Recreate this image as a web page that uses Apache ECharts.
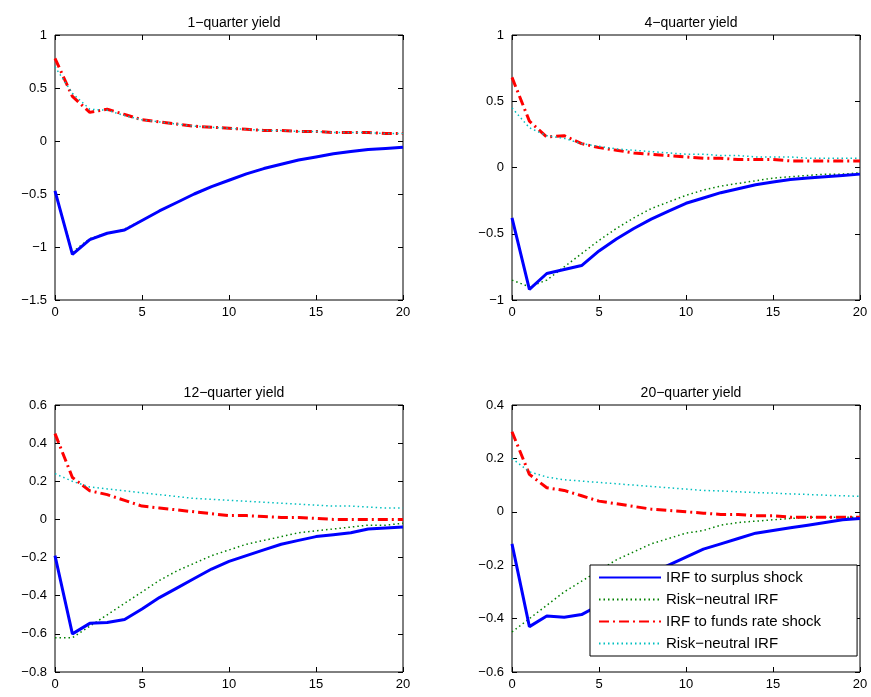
<!DOCTYPE html>
<html>
<head>
<meta charset="UTF-8">
<script src="https://cdn.jsdelivr.net/npm/echarts@6/dist/echarts.min.js"></script>
</head>
<body style="margin:0;background:#fff">
<div id="main" style="width:871px;height:697px"></div>
<script>
var xs = [];
for (var i = 0; i <= 20; i++) xs.push(i);

var titles = ['1\u2212quarter yield', '4\u2212quarter yield', '12\u2212quarter yield', '20\u2212quarter yield'];
var seriesNames = ['IRF to surplus shock', 'Risk\u2212neutral IRF', 'IRF to funds rate shock', 'Risk\u2212neutral IRF '];

// panel 1
var surplus1 = [-0.47,-1.07,-0.93,-0.87,-0.84,-0.75,-0.66,-0.58,-0.5,-0.43,-0.37,-0.31,-0.26,-0.22,-0.18,-0.15,-0.12,-0.1,-0.08,-0.07,-0.06];
var rnSurplus1 = [-0.48,-1.05,-0.92,-0.87,-0.83,-0.75,-0.66,-0.58,-0.5,-0.43,-0.37,-0.31,-0.26,-0.22,-0.18,-0.15,-0.12,-0.1,-0.08,-0.07,-0.06];
var funds1 = [0.78,0.42,0.27,0.3,0.25,0.2,0.18,0.16,0.14,0.13,0.12,0.11,0.1,0.1,0.09,0.09,0.08,0.08,0.08,0.07,0.07];
var rnFunds1 = [0.7,0.45,0.3,0.29,0.24,0.2,0.18,0.16,0.14,0.13,0.12,0.11,0.1,0.1,0.09,0.09,0.08,0.08,0.08,0.07,0.07];
// panel 2
var surplus2 = [-0.38,-0.92,-0.8,-0.77,-0.74,-0.63,-0.54,-0.46,-0.39,-0.33,-0.27,-0.23,-0.19,-0.16,-0.13,-0.11,-0.09,-0.08,-0.07,-0.06,-0.05];
var rnSurplus2 = [-0.85,-0.9,-0.85,-0.75,-0.65,-0.55,-0.46,-0.38,-0.31,-0.26,-0.21,-0.17,-0.14,-0.12,-0.1,-0.08,-0.07,-0.06,-0.05,-0.05,-0.04];
var funds2 = [0.68,0.35,0.23,0.24,0.18,0.15,0.13,0.11,0.1,0.09,0.08,0.07,0.07,0.06,0.06,0.06,0.05,0.05,0.05,0.05,0.05];
var rnFunds2 = [0.45,0.3,0.24,0.22,0.18,0.16,0.14,0.13,0.12,0.11,0.1,0.1,0.09,0.09,0.08,0.08,0.08,0.07,0.07,0.07,0.07];
// panel 3
var surplus3 = [-0.19,-0.6,-0.545,-0.54,-0.525,-0.47,-0.41,-0.36,-0.31,-0.26,-0.22,-0.19,-0.16,-0.13,-0.11,-0.09,-0.08,-0.07,-0.05,-0.045,-0.04];
var rnSurplus3 = [-0.62,-0.62,-0.56,-0.5,-0.44,-0.38,-0.32,-0.27,-0.23,-0.19,-0.16,-0.13,-0.11,-0.09,-0.07,-0.06,-0.05,-0.04,-0.03,-0.03,-0.02];
var funds3 = [0.45,0.22,0.15,0.13,0.1,0.07,0.06,0.05,0.04,0.03,0.02,0.02,0.015,0.01,0.01,0.005,0,0,0,0,0];
var rnFunds3 = [0.24,0.2,0.17,0.16,0.15,0.14,0.13,0.12,0.11,0.105,0.1,0.095,0.09,0.085,0.08,0.075,0.07,0.07,0.065,0.06,0.06];
// panel 4
var surplus4 = [-0.12,-0.43,-0.39,-0.395,-0.385,-0.35,-0.31,-0.27,-0.23,-0.2,-0.17,-0.14,-0.12,-0.1,-0.08,-0.07,-0.06,-0.05,-0.04,-0.03,-0.025];
var rnSurplus4 = [-0.45,-0.4,-0.35,-0.3,-0.26,-0.22,-0.18,-0.15,-0.12,-0.1,-0.08,-0.07,-0.05,-0.04,-0.035,-0.03,-0.025,-0.02,-0.02,-0.02,-0.02];
var funds4 = [0.3,0.14,0.09,0.08,0.06,0.04,0.03,0.02,0.01,0.005,0,-0.005,-0.01,-0.01,-0.015,-0.015,-0.02,-0.02,-0.02,-0.02,-0.02];
var rnFunds4 = [0.2,0.15,0.13,0.12,0.115,0.11,0.105,0.1,0.095,0.09,0.085,0.08,0.078,0.075,0.072,0.07,0.067,0.065,0.062,0.06,0.058];

var yMin = [-1.5, -1, -0.8, -0.6];
var yMax = [1, 1, 0.6, 0.4];
var yStep = [0.5, 0.5, 0.2, 0.2];

var panels = [
  [surplus1, rnSurplus1, funds1, rnFunds1],
  [surplus2, rnSurplus2, funds2, rnFunds2],
  [surplus3, rnSurplus3, funds3, rnFunds3],
  [surplus4, rnSurplus4, funds4, rnFunds4]
];

var boxes = [
  {left: 55, top: 35, width: 348, height: 265},
  {left: 512, top: 35, width: 348, height: 265},
  {left: 55, top: 405, width: 348, height: 267},
  {left: 512, top: 405, width: 348, height: 267}
];

var styles = [
  {color: '#0000ff', width: 3, type: 'solid'},
  {color: '#008000', width: 1.5, type: [1.5, 3]},
  {color: '#ff0000', width: 3, type: [10, 4, 2, 4]},
  {color: '#00bfbf', width: 1.5, type: [1.5, 3]}
];

var font = {fontFamily: 'Liberation Sans', fontSize: 13, color: '#000'};
var minus = function (v) { return String(v).replace('-', '\u2212'); };
var tick = {inside: true, length: 5, lineStyle: {color: '#000'}};
var grid = [], xAxis = [], yAxis = [], series = [], title = [];

boxes.forEach(function (b, k) {
  grid.push({left: b.left, top: b.top, width: b.width, height: b.height,
    show: true, borderColor: '#000', borderWidth: 1});
  title.push({text: titles[k], left: b.left + b.width / 2, top: b.top - 24, textAlign: 'center',
    textStyle: {fontFamily: 'Liberation Sans', fontSize: 14, fontWeight: 'normal', color: '#000'}});
  ['bottom', 'top'].forEach(function (pos) {
    xAxis.push({type: 'value', gridIndex: k, position: pos, min: 0, max: 20, interval: 5,
      axisLine: {show: false, onZero: false}, splitLine: {show: false}, axisTick: tick,
      axisLabel: Object.assign({show: pos === 'bottom', margin: 6, formatter: minus}, font)});
  });
  ['left', 'right'].forEach(function (pos) {
    yAxis.push({type: 'value', gridIndex: k, position: pos, min: yMin[k], max: yMax[k], interval: yStep[k],
      axisLine: {show: false, onZero: false}, splitLine: {show: false}, axisTick: tick,
      axisLabel: Object.assign({show: pos === 'left', margin: 8, formatter: minus}, font)});
  });
  panels[k].forEach(function (vals, s) {
    series.push({
      name: seriesNames[s], type: 'line', xAxisIndex: 2 * k, yAxisIndex: 2 * k,
      data: xs.map(function (x, i) { return [x, vals[i]]; }),
      symbol: 'none', z: s === 0 ? 3 : 2,
      lineStyle: styles[s], itemStyle: {color: styles[s].color}
    });
  });
});

var chart = echarts.init(document.getElementById('main'));
chart.setOption({
  animation: false,
  title: title,
  grid: grid,
  xAxis: xAxis,
  yAxis: yAxis,
  legend: {
    show: true, z: 10,
    orient: 'vertical', left: 590, top: 565,
    itemWidth: 62, itemHeight: 14, itemGap: 7,
    padding: [5, 36, 5, 8],
    itemStyle: {opacity: 0},
    backgroundColor: '#fff', borderColor: '#000', borderWidth: 1,
    textStyle: {fontFamily: 'Liberation Sans', fontSize: 15, color: '#000'},
    data: seriesNames
  },
  series: series
});
</script>
</body>
</html>
